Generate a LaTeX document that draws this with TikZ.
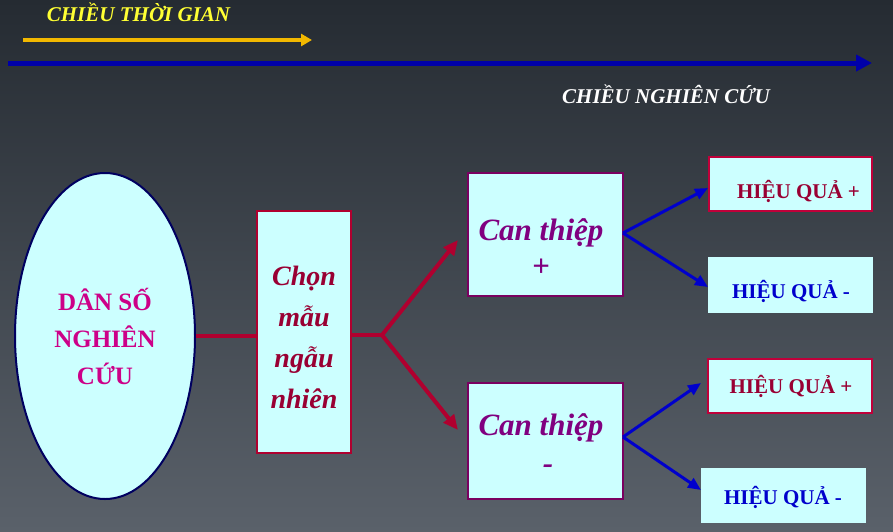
\documentclass[tikz,border=0pt]{standalone}
\usepackage{fontspec}
\setmainfont{Liberation Serif}
\usetikzlibrary{shapes.geometric,arrows.meta}
\definecolor{bgtop}{HTML}{252B32}
\definecolor{bgbot}{HTML}{5A616A}
\definecolor{boxfill}{HTML}{CCFFFF}
\definecolor{navy}{HTML}{000060}
\definecolor{pinkt}{HTML}{CC0088}
\definecolor{dredt}{HTML}{990033}
\definecolor{redline}{HTML}{B0002F}
\definecolor{purplet}{HTML}{800080}
\definecolor{purpleb}{HTML}{7A0060}
\definecolor{hqred}{HTML}{C0003A}
\definecolor{hqblue}{HTML}{0000CC}
\definecolor{arrblue}{HTML}{0000CC}
\definecolor{mainblue}{HTML}{0000A8}
\definecolor{goldarr}{HTML}{F2B800}
\definecolor{titley}{HTML}{FFFF33}
\begin{document}
\begin{tikzpicture}[x=1pt,y=-1pt,
  cyanbox/.style={rectangle, fill=boxfill, inner sep=0pt},
  hqtext/.style={anchor=base, inner sep=0pt, font=\fontsize{21}{24}\selectfont\bfseries},
  cantext/.style={anchor=base, inner sep=0pt, text=purplet, font=\fontsize{31}{38}\selectfont\bfseries\itshape},
  redconn/.style={draw=redline, line width=4pt},
  bluearr/.style={draw=arrblue, line width=3pt, -{Triangle[length=13pt,width=11pt]}},
  titletext/.style={anchor=base, inner sep=0pt, font=\fontsize{21}{24}\selectfont\bfseries\itshape}]
\useasboundingbox (0,0) rectangle (893,531);
\shade[top color=bgtop, bottom color=bgbot] (0,0) rectangle (893,531);

% top arrows and titles
\node[titletext, text=titley] (tg) at (138.5,21.7) {CHIỀU THỜI GIAN};
\coordinate (ya) at (23,40);
\coordinate (yb) at (312,40);
\draw[goldarr, line width=4pt, -{Triangle[length=11pt,width=12pt]}] (ya) -- (yb);
\coordinate (ba) at (8,63);
\coordinate (bb) at (872,63);
\draw[mainblue, line width=5pt, -{Triangle[length=16pt,width=16pt]}] (ba) -- (bb);
\node[titletext, text=white] (nc) at (666,103) {CHIỀU NGHIÊN CỨU};

% ellipse
\node[ellipse, draw=navy, line width=2pt, fill=boxfill, minimum width=180pt, minimum height=326pt, inner sep=0pt,
  align=center, text=pinkt, font=\fontsize{25}{37}\selectfont\bfseries] (ell) at (105,336) {DÂN SỐ\\NGHIÊN\\CỨU};

% Chon mau box
\node[cyanbox, draw=redline, line width=2pt, minimum width=94pt, minimum height=242pt] (chon) at (304,332) {};
\node[align=center, inner sep=0pt, text=dredt, font=\fontsize{28}{41}\selectfont\bfseries\itshape] (chont) at (304,337) {Chọn\\mẫu\\ngẫu\\nhiên};

% Can thiep boxes
\node[cyanbox, draw=purpleb, line width=1.5pt, minimum width=155pt, minimum height=123pt] (can1) at (545.5,234.5) {};
\node[cyanbox, draw=purpleb, line width=1.5pt, minimum width=155pt, minimum height=116pt] (can2) at (545.5,441) {};
\node[cantext] (can1a) at (541,240) {Can thiệp};
\node[cantext] (can1b) at (541,276) {+};
\node[cantext] (can2a) at (541,435) {Can thiệp};
\node[cantext] (can2b) at (548,473) {-};

% result boxes
\node[cyanbox, draw=hqred, line width=2pt, minimum width=163pt, minimum height=54pt] (hq1) at (790.5,184) {};
\node[cyanbox, minimum width=165pt, minimum height=56pt] (hq2) at (790.5,285) {};
\node[cyanbox, draw=hqred, line width=2pt, minimum width=164pt, minimum height=54pt] (hq3) at (790,386) {};
\node[cyanbox, minimum width=165pt, minimum height=55pt] (hq4) at (783.5,495.5) {};
\node[hqtext, text=dredt] (hq1t) at (798.5,198) {HIỆU QUẢ +};
\node[hqtext, text=hqblue] (hq2t) at (791,298) {HIỆU QUẢ -};
\node[hqtext, text=dredt] (hq3t) at (791,393) {HIỆU QUẢ +};
\node[hqtext, text=hqblue] (hq4t) at (783,504) {HIỆU QUẢ -};

% red connectors
\coordinate (fork) at (382,335);
\coordinate (r1) at (458,240);
\coordinate (r2) at (458,430);
\draw[redconn] (ell.east) -- (ell.east -| chon.west);
\draw[redconn] (chon.east |- fork) -- (fork);
\draw[redconn, -{Triangle[length=15pt,width=13pt]}] (fork) -- (r1);
\draw[redconn, -{Triangle[length=15pt,width=13pt]}] (fork) -- (r2);

% blue connectors
\coordinate (c1) at (623,233);
\coordinate (c2) at (623,437);
\coordinate (e1) at (708,188);
\coordinate (e2) at (708,287);
\coordinate (e3) at (701,383);
\coordinate (e4) at (701,490);
\draw[bluearr] (c1) -- (e1);
\draw[bluearr] (c1) -- (e2);
\draw[bluearr] (c2) -- (e3);
\draw[bluearr] (c2) -- (e4);
\end{tikzpicture}
\end{document}
